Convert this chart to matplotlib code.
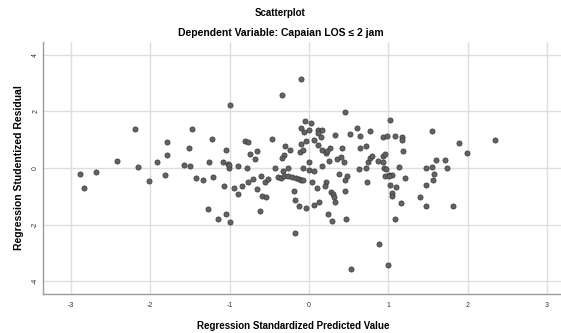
import matplotlib.pyplot as plt

# Regression standardized predicted value (x) and studentized residual (y)
pred = [
    -2.89, -2.84, -2.68, -2.42, -2.19, -2.15, -2.02, -1.92, -1.79, -1.79,
    -1.81, -1.57, -1.50, -1.51, -1.47, -1.42, -1.33, -1.22, -1.26, -1.21,
    -1.27, -1.15, -1.04, -1.00, -1.05, -1.08, -1.02, -1.01, -1.07, -0.95,
    -0.90, -0.89, -0.99, -1.01,
    -0.84, -0.77, -0.78, -0.81, -0.77, -0.74, -0.66, -0.68, -0.71, -0.66,
    -0.61, -0.62, -0.59, -0.54, -0.56, -0.52, -0.46, -0.43, -0.34, -0.30,
    -0.24, -0.32, -0.34, -0.39, -0.35, -0.33, -0.32, -0.27, -0.27, -0.21,
    -0.16, -0.12, -0.10, -0.07, -0.19, -0.17, -0.13, -0.04, -0.17, -0.10,
    -0.05, 0.03, -0.10, -0.06, 0.00, -0.04, -0.10, -0.11, -0.08, -0.07,
    0.00, 0.00, 0.07, 0.04, 0.07, 0.13, 0.10, 0.17, 0.06, 0.11,
    0.12, 0.16, 0.15, 0.17, 0.21, 0.27, 0.23, 0.21, 0.20, 0.28,
    0.30, 0.31, 0.33, 0.24, 0.29, 0.33, 0.35, 0.40, 0.42, 0.44,
    0.38, 0.46, 0.48, 0.45, 0.45, 0.47, 0.52, 0.61, 0.64, 0.65,
    0.72, 0.63, 0.72, 0.73, 0.77, 0.53, 0.74, 0.77, 0.80, 0.87,
    0.93, 0.96, 0.93, 0.95, 0.97, 0.88, 1.00, 1.02, 0.94, 0.98,
    1.09, 1.13, 1.01, 1.05, 1.02, 1.10, 1.05, 1.05, 1.09, 1.16,
    0.25, 0.11, 0.96, 1.01,
    1.17, 1.17, 1.19, 1.55, 1.89, 1.99, 2.35, 1.60, 1.72, 1.47,
    1.55, 1.74, 1.58, 1.57, 1.48, 1.40, 1.48, 1.82, 1.21,
]
resid = [
    -0.21, -0.71, -0.14, 0.25, 1.39, 0.05, -0.46, 0.21, 0.93, 0.46,
    -0.23, 0.12, 0.06, 0.71, 1.38, -0.34, -0.42, 1.02, 0.20, -0.33,
    -1.45, -1.79, -1.62, -1.89, 0.62, 0.20, 0.15, -0.01, -0.62, -0.71,
    -0.93, 0.06, 2.21, 0.12,
    -0.62, -0.51, -0.01, 0.94, 0.93, 0.51, 0.59, 0.33, -0.39, -0.75,
    -0.29, -1.53, -0.98, -1.02, -0.51, -0.39, 1.04, -0.01, 2.58, 0.79,
    0.64, 0.45, 0.35, -0.32, -0.34, -0.12, -0.27, 0.01, -0.27, -0.31,
    -0.34, -0.39, -0.41, -0.42, -0.80, -1.14, -1.34, -1.42, -2.31, 3.15,
    1.66, 1.60, 1.40, 1.26, 1.33, 0.96, 0.86, 0.55, 0.62, 0.01,
    0.20, -0.07, -0.12, -0.51, -1.32, -1.20, -0.71, 0.07, 0.98, 0.81,
    1.35, 1.33, 1.11, 0.65, 0.53, 0.69, 0.60, -0.51, -0.62, -0.84,
    -0.93, -1.01, -1.20, -1.64, -1.86, 1.16, 0.33, 0.39, 0.69, 0.22,
    -0.22, 1.99, -0.29, -0.41, -0.82, -1.80, 1.21, 1.42, 1.12, 0.72,
    0.76, -0.04, 0.00, -0.49, 1.31, -3.56, 0.21, 0.35, 0.41, 0.24,
    0.41, 0.48, 0.21, 0.00, -0.05, -2.69, -3.44, 1.69, 1.08, 1.14,
    1.13, 0.04, -0.24, -0.24, -0.60, -0.66, -0.88, -0.99, -1.79, -1.24,
    0.26, 1.22, -0.29, -0.28,
    1.08, 0.99, 0.61, 1.29, 0.87, 0.54, 0.99, 0.28, 0.28, -0.01,
    0.02, -0.01, -0.20, -0.42, -0.59, -1.01, -1.35, -1.35, -0.36,
]
xticks = [-3, -2, -1, 0, 1, 2, 3]
yticks = [-4, -2, 0, 2, 4]

plt.rcParams['font.family'] = ['Liberation Sans', 'DejaVu Sans']

fig = plt.figure(figsize=(5.61, 3.33), dpi=100)
ax = fig.add_axes([0.0772, 0.117, 0.947, 0.757])

ax.scatter(pred, resid, s=14, facecolor='#626262', edgecolor='#3a3a3a',
           linewidth=0.5, zorder=3)

ax.set_xlim(-3.35, 3.35)
ax.set_ylim(-4.45, 4.45)
ax.set_xticks(xticks)
ax.set_yticks(yticks)
ax.set_xticklabels([str(t) for t in xticks], fontsize=5)
ax.set_yticklabels([str(t) for t in yticks], fontsize=5, rotation=90, va='center')
ax.tick_params(axis='x', length=0, pad=6, colors='#333333')
ax.tick_params(axis='y', length=0, pad=3, colors='#333333')
ax.grid(True, color='#dedede', linewidth=1.0)
ax.set_axisbelow(True)
for s in ['top', 'right']:
    ax.spines[s].set_visible(False)
for s in ['left', 'bottom']:
    ax.spines[s].set_color('#9a9a9a')
    ax.spines[s].set_linewidth(1.0)

ax.set_xlabel('Regression Standardized Predicted Value', fontsize=7,
              fontweight='bold')
ax.xaxis.set_label_coords(0.471, -0.105)
ax.set_ylabel('Regression Studentized Residual', fontsize=7.5,
              fontweight='bold', labelpad=6)

fig.text(0.5, 0.96, 'Scatterplot', ha='center', va='center',
         fontsize=7, fontweight='bold')
fig.text(0.5, 0.9, 'Dependent Variable: Capaian LOS \u2264 2 jam', ha='center',
         va='center', fontsize=7.5, fontweight='bold')

fig.savefig('out.png', dpi=100)
